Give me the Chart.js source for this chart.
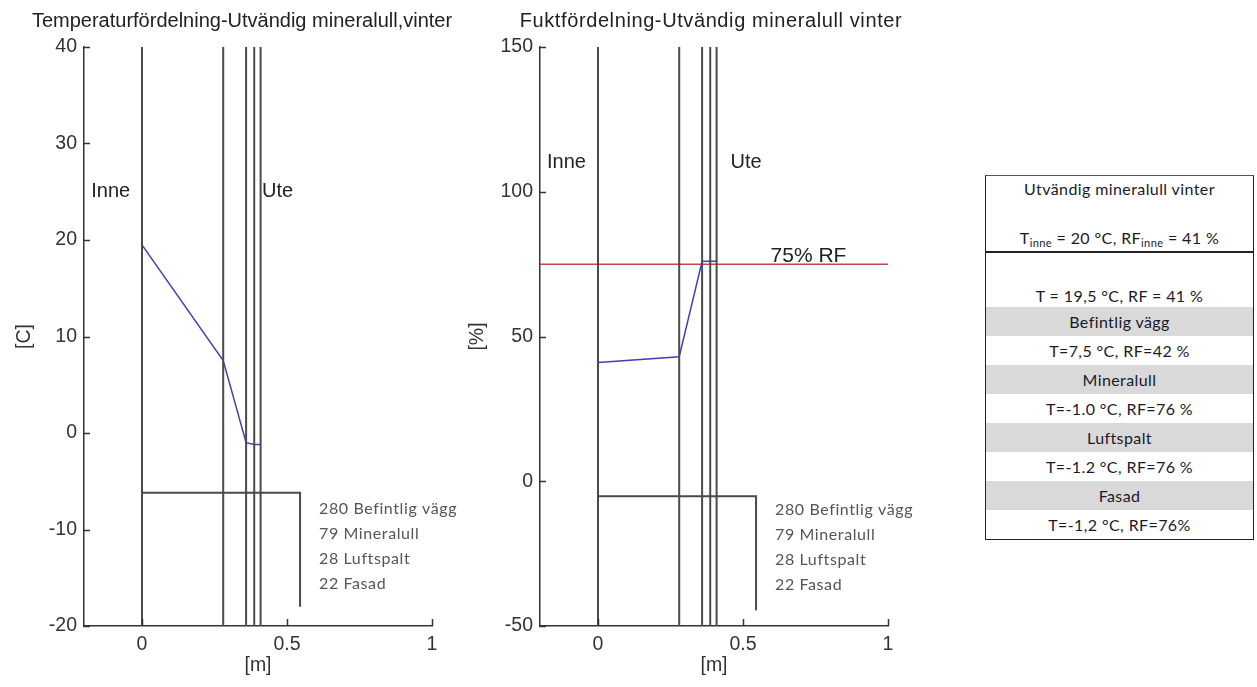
<!DOCTYPE html>
<html>
<head>
<meta charset="utf-8">
<script src="https://cdn.jsdelivr.net/npm/chart.js@4/dist/chart.umd.min.js"></script>
<style>
body { margin:0; background:#fff; width:1257px; height:687px; overflow:hidden; position:relative; }
.wrap { position:absolute; top:0; width:460px; height:687px; }
#tbl { position:absolute; left:985px; top:175px; width:267px; border:1.5px solid #222; border-top:1px solid #555;
       font-family:Lato, "Open Sans", sans-serif; font-size:16px; letter-spacing:0.4px; color:#1a1a2a; text-align:center; }
#tbl .head { height:75px; border-bottom:2px solid #222; position:relative; }
#tbl .head div { position:absolute; left:0; right:0; }
#tbl .row { height:29px; line-height:29px; }
#tbl .row.first { height:54px; line-height:22px; padding-top:32px; box-sizing:border-box; }
#tbl .row.grey { background:#d9d9d9; }
#tbl sub { font-size:11px; vertical-align:-3px; }
</style>
</head>
<body>
<div class="wrap" style="left:0"><canvas id="tempChart" width="460" height="687"></canvas></div>
<div class="wrap" style="left:460px"><canvas id="rfChart" width="460" height="687"></canvas></div>
<div id="tbl"></div>

<script>
// wall layers, mm
const layerNames = ['Befintlig vägg', 'Mineralull', 'Luftspalt', 'Fasad'];
const layerMm = [280, 79, 28, 22];

// values at each boundary (inne -> ute)
const tempValues = [19.5, 7.5, -1.0, -1.2, -1.2];
const rfValues = [41, 43, 76, 76, 76];
const rfLimit = 75;

const xTicks = [0, 0.5, 1];
const tempTicks = [-20, -10, 0, 10, 20, 30, 40];
const rfTicks = [-50, 0, 50, 100, 150];

// table text
const tableTitle = 'Utvändig mineralull vinter';
const tableInne = 'T<sub>inne</sub> = 20 °C, RF<sub>inne</sub> = 41 %';
const tableRows = [
  ['T = 19,5 °C, RF = 41 %', 'first'],
  ['Befintlig vägg', 'grey'],
  ['T=7,5 °C, RF=42 %', ''],
  ['Mineralull', 'grey'],
  ['T=-1.0 °C, RF=76 %', ''],
  ['Luftspalt', 'grey'],
  ['T=-1.2 °C, RF=76 %', ''],
  ['Fasad', 'grey'],
  ['T=-1,2 °C, RF=76%', '']
];

// boundary positions in m
const bounds = [0];
layerMm.forEach(function(mm, i) {
  bounds.push(Math.round((bounds[i] + mm / 1000) * 1000) / 1000);
});

const LINE = '#4a4a4a';
const SANS = '"Liberation Sans", Arial, sans-serif';

const extras = {
  id: 'extras',
  afterDraw(chart) {
    const o = chart.options.plugins.extras;
    const ctx = chart.ctx, a = chart.chartArea;
    const x = chart.scales.x, y = chart.scales.y;
    ctx.save();
    // inward tick marks
    ctx.strokeStyle = '#333';
    ctx.lineWidth = 1.5;
    ctx.beginPath();
    y.ticks.forEach(function(t) {
      const py = Math.round(y.getPixelForValue(t.value)) + 0.5;
      ctx.moveTo(a.left, py); ctx.lineTo(a.left + 6, py);
    });
    x.ticks.forEach(function(t) {
      const px = Math.round(x.getPixelForValue(t.value)) + 0.5;
      ctx.moveTo(px, a.bottom); ctx.lineTo(px, a.bottom - 7);
    });
    ctx.stroke();

    // title
    ctx.fillStyle = '#222';
    ctx.font = '20px ' + SANS;
    ctx.letterSpacing = o.titleSpacing;
    ctx.textAlign = 'center';
    ctx.textBaseline = 'middle';
    ctx.fillText(o.title, o.titleX, 21);
    ctx.letterSpacing = '0px';

    // Inne / Ute
    ctx.textAlign = 'left';
    o.labels.forEach(function(l) {
      ctx.font = l[3] + 'px ' + SANS;
      ctx.fillText(l[0], x.getPixelForValue(l[1]), y.getPixelForValue(l[2]));
    });

    // layer legend
    ctx.font = '16px Lato, sans-serif';
    ctx.letterSpacing = '0.6px';
    ctx.fillStyle = '#555';
    const bx = x.getPixelForValue(o.boxX), by = y.getPixelForValue(o.boxY);
    layerMm.forEach(function(mm, i) {
      ctx.fillText(mm + ' ' + layerNames[i], bx + 19, by + o.legendTop + i * 25);
    });
    ctx.restore();
  }
};

function makeChart(id, opt) {
  const datasets = [];
  bounds.forEach(function(b) {
    datasets.push({ data: [{x: b, y: opt.yMin}, {x: b, y: opt.yMax}], borderColor: LINE, borderWidth: 2 });
  });
  datasets.push({
    data: [{x: 0, y: opt.boxY}, {x: opt.boxX, y: opt.boxY}, {x: opt.boxX, y: opt.boxBottom}],
    borderColor: LINE, borderWidth: 2
  });
  if (opt.limit !== undefined) {
    datasets.push({ data: [{x: -0.2, y: opt.limit}, {x: 1, y: opt.limit}], borderColor: '#c84646', borderWidth: 1.5 });
  }
  datasets.push({
    data: bounds.map(function(b, i) { return {x: b, y: opt.values[i]}; }),
    borderColor: '#4040b4', borderWidth: 1.5
  });
  datasets.forEach(function(d) { d.showLine = true; d.pointRadius = 0; d.fill = false; });

  const tickFont = { family: SANS, size: 19.5 };

  new Chart(document.getElementById(id), {
    type: 'scatter',
    data: { datasets: datasets },
    options: {
      responsive: false,
      animation: false,
      devicePixelRatio: 1,
      layout: { padding: { top: 47, right: opt.padRight, left: 0, bottom: 0 } },
      plugins: {
        legend: { display: false },
        tooltip: { enabled: false },
        extras: opt
      },
      scales: {
        x: {
          type: 'linear', min: -0.2, max: 1,
          afterBuildTicks: function(s) { s.ticks = xTicks.map(function(v) { return {value: v}; }); },
          afterFit: function(s) { s.height = 61; },
          grid: { display: false, drawTicks: false },
          border: { display: true, color: '#333', width: 1.5 },
          ticks: { font: tickFont, color: '#333', padding: 7, maxRotation: 0,
                   callback: function(v) { return String(v); } },
          title: { display: true, text: '[m]', font: tickFont, color: '#333', padding: { top: 0, bottom: 10 } }
        },
        y: {
          type: 'linear', min: opt.yMin, max: opt.yMax,
          afterBuildTicks: function(s) { s.ticks = opt.ticks.map(function(v) { return {value: v}; }); },
          afterFit: function(s) { s.width = opt.axisWidth; },
          grid: { display: false, drawTicks: false },
          border: { display: true, color: '#333', width: 1.5 },
          ticks: { font: tickFont, color: '#333', padding: 7 },
          title: { display: true, text: opt.yTitle, font: tickFont, color: '#333', padding: { top: opt.yTitlePad, bottom: 0 } }
        }
      }
    },
    plugins: [extras]
  });
}

makeChart('tempChart', {
  title: 'Temperaturfördelning-Utvändig mineralull,vinter', titleX: 242, titleSpacing: '0px',
  values: tempValues, ticks: tempTicks, yMin: -20, yMax: 40,
  yTitle: '[C]', yTitlePad: 13, axisWidth: 84, padRight: 28,
  boxX: 0.545, boxY: -6.2, boxBottom: -18, legendTop: 16,
  labels: [['Inne', -0.175, 25, 20], ['Ute', 0.414, 25, 20]]
});

makeChart('rfChart', {
  title: 'Fuktfördelning-Utvändig mineralull vinter', titleX: 251, titleSpacing: '0.6px',
  values: rfValues, ticks: rfTicks, yMin: -50, yMax: 150, limit: rfLimit,
  yTitle: '[%]', yTitlePad: 6, axisWidth: 80, padRight: 32,
  boxX: 0.545, boxY: -5.2, boxBottom: -44.6, legendTop: 14,
  labels: [['Inne', -0.176, 110, 20], ['Ute', 0.457, 110, 20], [rfLimit + '% RF', 0.595, 77.7, 21]]
});

// table
let html = '<div class="head"><div style="top:3px">' + tableTitle + '</div><div style="top:52px">' + tableInne + '</div></div>';
tableRows.forEach(function(r) {
  html += '<div class="row ' + r[1] + '">' + r[0] + '</div>';
});
document.getElementById('tbl').innerHTML = html;
</script>
</body>
</html>
